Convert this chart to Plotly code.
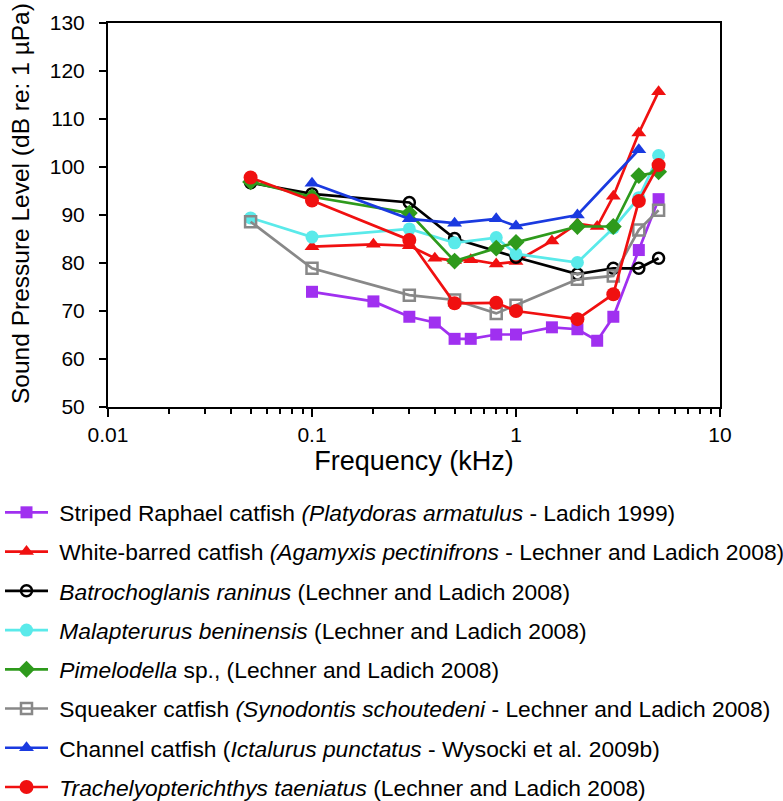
import plotly.graph_objects as go

# ---- data (frequency in kHz, threshold in dB re 1 µPa) ----
striped_f = [0.1, 0.2, 0.3, 0.4, 0.5, 0.6, 0.8, 1.0, 1.5, 2.0, 2.5, 3.0, 4.0, 5.0]
striped_db = [74.0, 72.0, 68.8, 67.6, 64.2, 64.2, 65.1, 65.1, 66.6, 66.2, 63.8, 68.8, 82.7, 93.3]

whitebar_f = [0.1, 0.2, 0.3, 0.4, 0.5, 0.6, 0.8, 1.0, 1.5, 2.0, 2.5, 3.0, 4.0, 5.0]
whitebar_db = [83.4, 83.9, 83.6, 81.0, 80.5, 80.7, 79.8, 80.3, 84.6, 88.2, 87.6, 93.9, 107.1, 115.7]

batro_f = [0.05, 0.1, 0.3, 0.5, 1.0, 2.0, 3.0, 4.0, 5.0]
batro_db = [96.7, 94.4, 92.6, 85.1, 81.2, 77.7, 78.9, 78.9, 81.0]

malap_f = [0.05, 0.1, 0.3, 0.5, 0.8, 1.0, 2.0, 3.0, 4.0, 5.0]
malap_db = [89.4, 85.4, 87.1, 84.2, 85.3, 81.9, 80.1, 87.3, 93.6, 102.4]

pimel_f = [0.05, 0.1, 0.3, 0.5, 0.8, 1.0, 2.0, 3.0, 4.0, 5.0]
pimel_db = [96.9, 93.8, 90.4, 80.4, 83.1, 84.3, 87.6, 87.6, 98.2, 99.0]

squeak_f = [0.05, 0.1, 0.3, 0.5, 0.8, 1.0, 2.0, 3.0, 4.0, 5.0]
squeak_db = [88.6, 78.9, 73.3, 72.3, 69.5, 71.2, 76.6, 77.3, 86.9, 91.0]

channel_f = [0.1, 0.3, 0.5, 0.8, 1.0, 2.0, 4.0]
channel_db = [96.6, 89.2, 88.3, 89.2, 87.7, 90.0, 103.6]

trach_f = [0.05, 0.1, 0.3, 0.5, 0.8, 1.0, 2.0, 3.0, 4.0, 5.0]
trach_db = [97.8, 93.0, 84.8, 71.6, 71.7, 70.0, 68.3, 73.5, 92.9, 100.4]

x_tickvals = [0.01, 0.1, 1, 10]
x_ticktext = ["0.01", "0.1", "1", "10"]
x_minor_vals = [m * d for d in (0.01, 0.1, 1) for m in range(2, 10)]

NB = "\u00a0"
names = [
    NB + "Striped Raphael catfish <i>(Platydoras armatulus</i> - Ladich 1999)",
    NB + "White-barred catfish <i>(Agamyxis pectinifrons</i> - Lechner and Ladich 2008)",
    NB + "<i>Batrochoglanis raninus</i> (Lechner and Ladich 2008)",
    NB + "<i>Malapterurus beninensis</i> (Lechner and Ladich 2008)",
    NB + "<i>Pimelodella</i> sp., (Lechner and Ladich 2008)",
    NB + "Squeaker catfish <i>(Synodontis schoutedeni</i> - Lechner and Ladich 2008)",
    NB + "Channel catfish (<i>Ictalurus punctatus</i> - Wysocki et al. 2009b)",
    NB + "<i>Trachelyopterichthys taeniatus</i> (Lechner and Ladich 2008)",
]

series = [
    (striped_f, striped_db, "#A030F0", "square", 12),
    (whitebar_f, whitebar_db, "#F01010", "triangle-up", 13),
    (batro_f, batro_db, "#000000", "circle-open", 11),
    (malap_f, malap_db, "#5AEAEA", "circle", 13),
    (pimel_f, pimel_db, "#2E9A1C", "diamond", 13),
    (squeak_f, squeak_db, "#888888", "square-open", 11),
    (channel_f, channel_db, "#1A3AE0", "triangle-up", 13),
    (trach_f, trach_db, "#F01010", "circle", 14),
]

fig = go.Figure()
for i, ((fx, fy, col, sym, sz), nm) in enumerate(zip(series, names)):
    fig.add_trace(go.Scatter(
        x=fx, y=fy, mode="lines+markers", name=nm,
        legendgroup=f"g{i}",
        line=dict(color=col, width=2.7),
        marker=dict(symbol=sym, size=sz, color=col,
                    line=dict(width=2.5 if "open" in sym else 0, color=col)),
    ))

fig.update_layout(
    width=783, height=801,
    margin=dict(l=108, r=63, t=23, b=394, autoexpand=False),
    paper_bgcolor="white", plot_bgcolor="white",
    font=dict(family="Liberation Sans, Arial, sans-serif", color="black", size=21),
    showlegend=True,
    legend=dict(
        xref="container", yref="container", x=0.0, y=1 - 491 / 801,
        xanchor="left", yanchor="top",
        font=dict(size=22.8), tracegroupgap=6.6, itemwidth=43,
        bgcolor="rgba(0,0,0,0)",
    ),
    annotations=[dict(
        text="Sound Pressure Level (dB re: 1 µPa)", textangle=-90,
        xref="paper", yref="paper", x=(20 - 108) / 612, y=(407 - 204) / 384,
        xanchor="center", yanchor="middle", showarrow=False,
        font=dict(size=24.5, color="black"),
    )],
)

fig.update_xaxes(
    type="log", range=[-2, 1],
    tickmode="array", tickvals=x_tickvals, ticktext=x_ticktext,
    ticks="outside", ticklen=8, tickwidth=2, tickcolor="black",
    minor=dict(tickmode="array", tickvals=x_minor_vals, ticks="outside", ticklen=5,
               tickwidth=1.5, tickcolor="black", showgrid=False),
    showline=True, linewidth=2, linecolor="black", mirror=True,
    showgrid=False, zeroline=False, automargin=True,
    tickfont=dict(size=21),
    title=dict(text="Frequency (kHz)", font=dict(size=27), standoff=6),
)
fig.update_yaxes(
    range=[50, 130], dtick=10,
    ticks="outside", ticklen=7, tickwidth=2, tickcolor="black",
    ticklabelstandoff=10,
    showline=True, linewidth=2, linecolor="black", mirror=True,
    showgrid=False, zeroline=False, automargin=False,
    tickfont=dict(size=21),
)

fig.write_html("out.html", config={"displayModeBar": False},
               post_script="document.body.style.margin='0px';")
